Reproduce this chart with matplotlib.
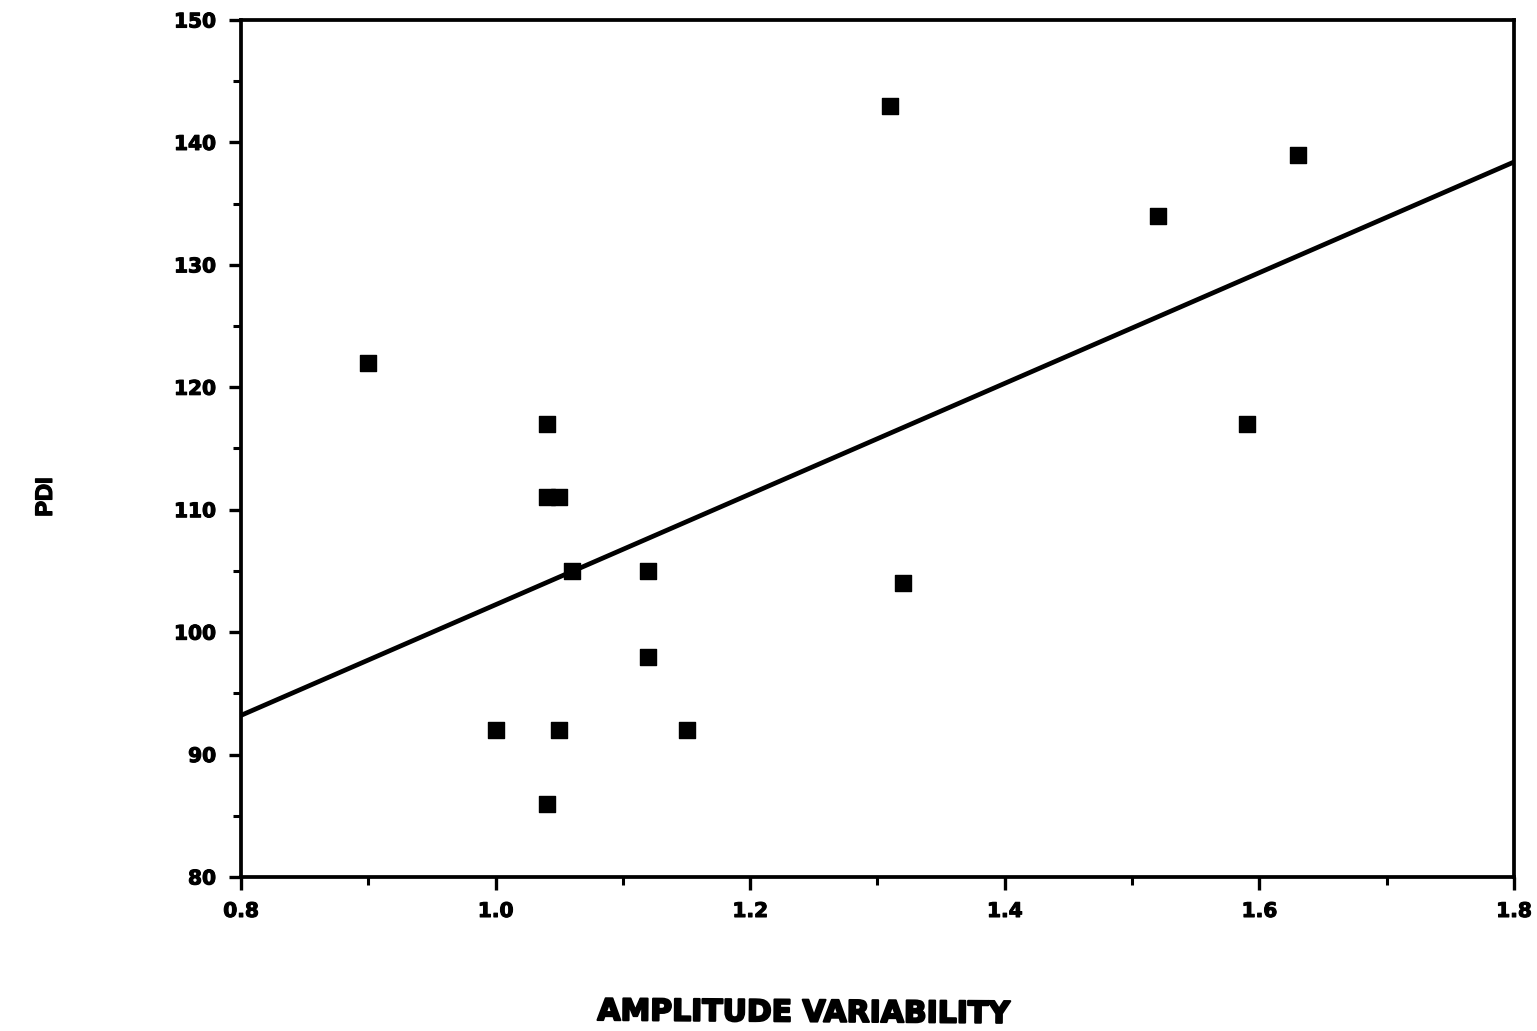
import matplotlib
matplotlib.use("Agg")
import matplotlib.pyplot as plt
import matplotlib.patheffects as pe
from matplotlib.ticker import MultipleLocator

# Data
amp_var = [0.90, 1.04, 1.04, 1.05, 1.06, 1.12, 1.12, 1.00, 1.05, 1.15, 1.04, 1.31, 1.32, 1.52, 1.59, 1.63]
pdi     = [122, 117, 111, 111, 105, 105, 98, 92, 92, 92, 86, 143, 104, 134, 117, 139]
line_x = [0.8, 1.8]
line_y = [93.2, 138.4]
x_ticks = [0.8, 1.0, 1.2, 1.4, 1.6, 1.8]
y_ticks = [80, 90, 100, 110, 120, 130, 140, 150]

plt.rcParams['font.family'] = ['DejaVu Sans']
fig = plt.figure(figsize=(15.37, 10.31), dpi=100)
ax = fig.add_axes([0.1568, 0.1494, 0.8282, 0.8312])

ax.plot(line_x, line_y, color='black', lw=3.4, solid_capstyle='butt', zorder=2, clip_on=False)
ax.scatter(amp_var, pdi, marker='s', s=130, color='black', edgecolors='black', zorder=3)

ax.set_xlim(0.8, 1.8)
ax.set_ylim(80, 150)
ax.set_xticks(x_ticks)
ax.set_xticklabels([f"{v:.1f}" for v in x_ticks])
ax.set_yticks(y_ticks)
ax.set_yticklabels([str(v) for v in y_ticks])
ax.xaxis.set_minor_locator(MultipleLocator(0.1))
ax.yaxis.set_minor_locator(MultipleLocator(5))
ax.tick_params(which='major', direction='out', length=9, width=2.4, labelsize=14.5, pad=9)
ax.tick_params(which='minor', direction='out', length=6, width=2.2)
bold_fx = [pe.withStroke(linewidth=0.8, foreground='black')]
for lab in ax.get_xticklabels() + ax.get_yticklabels():
    lab.set_fontweight('bold')
    lab.set_path_effects(bold_fx)
for sp in ax.spines.values():
    sp.set_linewidth(2.7)

fig.text(0.523, 0.0175, "AMPLITUDE VARIABILITY", ha='center', va='center',
         fontsize=21.5, fontweight='heavy', rotation=-0.4,
         path_effects=[pe.withStroke(linewidth=1.5, foreground='black')])
fig.text(0.0295, 0.518, "PDI", ha='center', va='center', rotation=90,
         fontsize=17, fontweight='bold', family=['Liberation Sans', 'DejaVu Sans'],
         path_effects=[pe.withStroke(linewidth=1.0, foreground='black')])

fig.savefig("out.png", dpi=100)
